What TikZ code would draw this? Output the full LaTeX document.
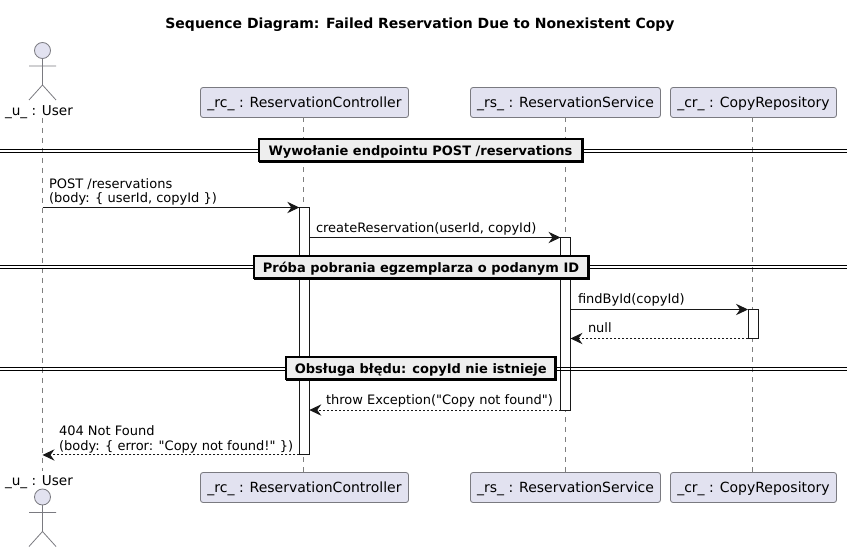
\documentclass[tikz,border=0pt]{standalone}
\usepackage{fontspec}
\newfontfamily\dvs{DejaVu Sans}
\usetikzlibrary{arrows.meta}
\definecolor{partfill}{HTML}{E2E2F0}
\definecolor{partline}{HTML}{7A7A80}
\definecolor{lifeline}{HTML}{7F7F7F}
\definecolor{ink}{HTML}{181818}
\definecolor{divfill}{HTML}{EEEEEE}
\tikzset{
  x=0.75pt,y=-0.75pt,
  every node/.style={font=\dvs\fontsize{9.75pt}{11.25pt}\selectfont,text=black,inner sep=0pt,outer sep=0pt},
  partbox/.style={draw=partline,fill=partfill,rounded corners=1.9pt,line width=0.6pt,minimum height=22.5pt,minimum width=#1,anchor=center,font=\dvs\fontsize{10.5pt}{12pt}\selectfont,text height=8.4pt,text depth=1.6pt},
  actorlabel/.style={anchor=base,font=\dvs\fontsize{10.2pt}{12pt}\selectfont},
  lifel/.style={draw=lifeline,line width=0.55pt,dash pattern=on 3.75pt off 3.75pt},
  actorline/.style={draw=partline,line width=0.6pt},
  actbar/.style={draw=ink,fill=white,line width=0.75pt,minimum width=7.5pt,anchor=north},
  msg/.style={draw=ink,line width=0.75pt,-{Stealth[length=9pt,width=8.5pt,inset=3pt]}},
  reply/.style={msg,dash pattern=on 1.5pt off 1.5pt},
  msglabel/.style={anchor=base west},
  divline/.style={draw=black,line width=0.75pt},
  divbox/.style={draw=black,fill=divfill,line width=1.5pt,anchor=center,font=\dvs\fontsize{9.75pt}{11.25pt}\selectfont\bfseries,minimum height=16.5pt,text height=9.4pt,text depth=1.1pt},
  divshadow/.style={draw=black,line width=0.9pt},
}
\begin{document}
\begin{tikzpicture}
\useasboundingbox (0,0) rectangle (847,552);
\fill[white] (0,0) rectangle (847,552);
\node[font=\dvs\fontsize{10.5pt}{12pt}\selectfont\bfseries,anchor=base] (title) at (420,29) {Sequence Diagram: Failed Reservation Due to Nonexistent Copy};

% participants
\node[partbox=156pt] (rcT) at (304.5,102.5) {\_rc\_ : ReservationController};
\node[partbox=142.5pt] (rsT) at (565.5,102.5) {\_rs\_ : ReservationService};
\node[partbox=124.5pt] (crT) at (753.5,102.5) {\_cr\_ : CopyRepository};
\node[partbox=156pt] (rcB) at (304.5,487.5) {\_rc\_ : ReservationController};
\node[partbox=142.5pt] (rsB) at (565.5,487.5) {\_rs\_ : ReservationService};
\node[partbox=124.5pt] (crB) at (753.5,487.5) {\_cr\_ : CopyRepository};
\node[actorlabel] (uT) at (39,115.5) {\_u\_ : User};
\node[actorlabel] (uB) at (39,485) {\_u\_ : User};

% lifelines
\coordinate (uTop) at (42.5,118);
\coordinate (uBot) at (42.5,471);
\coordinate (rcTop) at (303.5,117.5);
\coordinate (rcBot) at (303.5,472.5);
\coordinate (rsTop) at (565.5,117.5);
\coordinate (rsBot) at (565.5,472.5);
\coordinate (crTop) at (752.5,117.5);
\coordinate (crBot) at (752.5,472.5);
\draw[lifel] (uTop) -- (uBot);
\draw[lifel] (rcTop) -- (rcBot);
\draw[lifel] (rsTop) -- (rsBot);
\draw[lifel] (crTop) -- (crBot);

% actors
\draw[actorline,fill=partfill] (42.5,50.5) circle[radius=8];
\draw[actorline] (42.5,58.5) -- (42.5,85) (29,66) -- (56,66) (29,100) -- (42.5,85) -- (56,100);
\draw[actorline,fill=partfill] (42.5,497) circle[radius=8];
\draw[actorline] (42.5,505) -- (42.5,531.5) (29,512.5) -- (56,512.5) (29,546.5) -- (42.5,531.5) -- (56,546.5);

% activation bars
\node[actbar,minimum height=185.6pt] (rcA) at (304.3,207.5) {};
\node[actbar,minimum height=129.4pt] (rsA) at (565.5,237.5) {};
\node[actbar,minimum height=21.75pt] (crA) at (753,309.5) {};

% dividers
\coordinate (d1L) at (0,151);
\coordinate (d1R) at (847,151);
\coordinate (d2L) at (0,267);
\coordinate (d2R) at (847,267);
\coordinate (d3L) at (0,369);
\coordinate (d3R) at (847,369);
\foreach \a/\b in {d1L/d1R,d2L/d2R,d3L/d3R}{
  \draw[divline] ([yshift=1.1pt]\a) -- ([yshift=1.1pt]\b);
  \draw[divline] ([yshift=-1.1pt]\a) -- ([yshift=-1.1pt]\b);
}
\node[divbox,minimum width=242pt] (d1) at (420.5,150) {Wywołanie endpointu POST /reservations};
\node[divbox,minimum width=251pt] (d2) at (421,267) {Próba pobrania egzemplarza o podanym ID};
\node[divbox,minimum width=201.5pt] (d3) at (420.8,368) {Obsługa błędu: copyId nie istnieje};
\foreach \b in {d1,d2,d3}{
  \draw[divshadow] ([xshift=0.9pt,yshift=0.4pt]\b.north east) -- ([xshift=0.9pt,yshift=-0.9pt]\b.south east) -- ([yshift=-0.9pt]\b.south west);
}

% messages
\coordinate (m1s) at (uTop |- rcA.north);
\draw[msg] (m1s) -- (rcA.north west);
\node[msglabel] (m1a) at (49,188.5) {POST /reservations};
\node[msglabel] (m1b) at (49,203) {(body: \{ userId, copyId \})};

\coordinate (m2s) at (rcA.east |- rsA.north);
\draw[msg] (m2s) -- (rsA.north west);
\node[msglabel] (m2) at (316,233) {createReservation(userId, copyId)};

\coordinate (m3s) at (rsA.east |- crA.north);
\draw[msg] (m3s) -- (crA.north west);
\node[msglabel] (m3) at (578,304) {findById(copyId)};

\coordinate (m4e) at (rsA.east |- crA.south);
\draw[reply] (crA.south west) -- (m4e);
\node[msglabel] (m4) at (588,333) {null};

\coordinate (m5e) at (rcA.east |- rsA.south);
\draw[reply] (rsA.south west) -- (m5e);
\node[msglabel] (m5) at (326,405) {throw Exception("Copy not found")};

\coordinate (m6e) at (uTop |- rcA.south);
\draw[reply] (rcA.south west) -- (m6e);
\node[msglabel] (m6a) at (59,435.5) {404 Not Found};
\node[msglabel] (m6b) at (59,450.5) {(body: \{ error: "Copy not found!" \})};
\end{tikzpicture}
\end{document}
